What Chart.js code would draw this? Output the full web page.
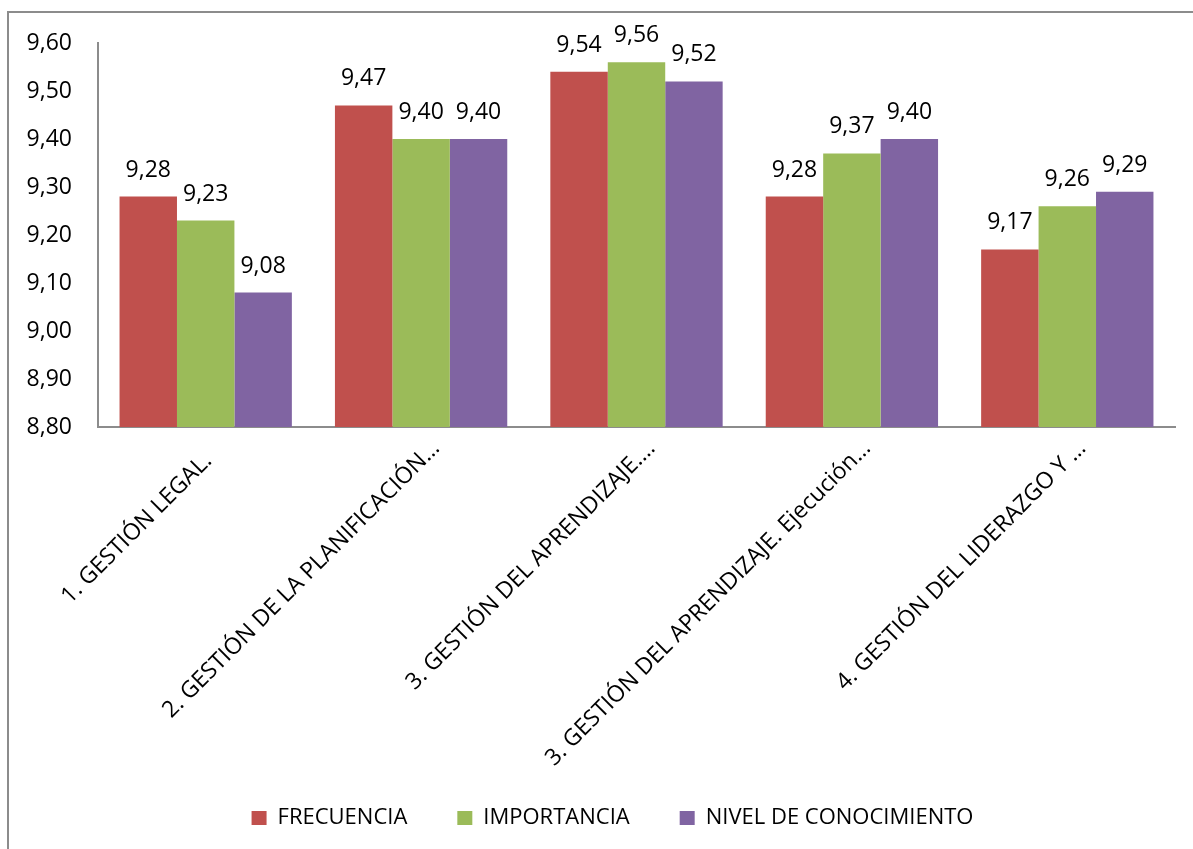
<!DOCTYPE html>
<html>
<head>
<meta charset="utf-8">
<title>Gestión</title>
<script src="https://cdn.jsdelivr.net/npm/chart.js@4.4.1/dist/chart.umd.min.js"></script>
<style>
  html, body { margin: 0; padding: 0; background: #fff; overflow: hidden; }
  #wrap { position: relative; width: 1193px; height: 849px; }
  #frame {
    position: absolute; left: 7px; top: 11px; width: 1200px; height: 860px;
    border: 2px solid #8c8c8c; box-sizing: border-box; pointer-events: none;
  }
  canvas { position: absolute; left: 0; top: 0; }
</style>
</head>
<body>
<div id="wrap">
  <canvas id="chart" width="1193" height="849"></canvas>
  <div id="frame"></div>
</div>
<script>
const categories = [
  '1. GESTIÓN LEGAL.   ',
  '2. GESTIÓN DE LA PLANIFICACIÓN…',
  '3. GESTIÓN DEL APRENDIZAJE.…',
  '3. GESTIÓN DEL APRENDIZAJE. Ejecución…',
  '4. GESTIÓN DEL LIDERAZGO Y …'
];
const frecuencia = [9.28, 9.47, 9.54, 9.28, 9.17];
const importancia = [9.23, 9.40, 9.56, 9.37, 9.26];
const nivelConocimiento = [9.08, 9.40, 9.52, 9.40, 9.29];
const yMin = 8.8;
const yMax = 9.6;
const yStep = 0.1;

const FONT = "'Open Sans', sans-serif";
const fmt = v => Number(v).toFixed(2).replace('.', ',');

// value labels above each bar
const barValues = {
  id: 'barValues',
  afterDatasetsDraw(chart) {
    const ctx = chart.ctx;
    ctx.save();
    ctx.font = '23px ' + FONT;
    ctx.fillStyle = '#000';
    ctx.textAlign = 'center';
    ctx.textBaseline = 'alphabetic';
    chart.data.datasets.forEach((ds, i) => {
      chart.getDatasetMeta(i).data.forEach((bar, j) => {
        ctx.fillText(fmt(ds.data[j]), bar.x, bar.y - 20);
      });
    });
    ctx.restore();
  }
};

// legend sits centred under the plot area, not the whole canvas
const legendShift = {
  id: 'legendShift',
  afterLayout(chart) {
    const lg = chart.legend;
    const dx = (chart.chartArea.left + chart.chartArea.right) / 2 - (lg.left + lg.right) / 2 - 24;
    lg.left += dx;
    lg.right += dx;
  }
};

new Chart(document.getElementById('chart'), {
  type: 'bar',
  data: {
    labels: categories,
    datasets: [
      { label: 'FRECUENCIA', data: frecuencia, backgroundColor: '#C0504D' },
      { label: 'IMPORTANCIA', data: importancia, backgroundColor: '#9BBB59' },
      { label: 'NIVEL DE CONOCIMIENTO', data: nivelConocimiento, backgroundColor: '#8064A2' }
    ]
  },
  options: {
    responsive: false,
    animation: false,
    devicePixelRatio: 1,
    categoryPercentage: 0.8,
    barPercentage: 1.0,
    layout: { padding: { left: 20, top: 43, right: 18, bottom: 10 } },
    plugins: {
      tooltip: { enabled: false },
      legend: {
        position: 'bottom',
        labels: {
          font: { family: FONT, size: 22 },
          color: '#000',
          boxWidth: 15,
          boxHeight: 14,
          padding: 50
        }
      }
    },
    scales: {
      x: {
        grid: { display: false, drawTicks: false },
        border: { display: true, color: '#8c8c8c', width: 2 },
        ticks: {
          font: { family: FONT, size: 23 },
          color: '#000',
          autoSkip: false,
          maxRotation: 45,
          minRotation: 45,
          padding: 8,
          labelOffset: 15
        },
        afterFit(scale) {
          scale.height = 330;
          // long rotated labels run past the axis box into the legend gap
          scale._computeLabelArea = () => undefined;
        }
      },
      y: {
        min: yMin,
        max: yMax,
        grid: { display: false, drawTicks: false },
        border: { display: true, color: '#8c8c8c', width: 2 },
        ticks: {
          stepSize: yStep,
          font: { family: FONT, size: 23 },
          color: '#000',
          padding: 26,
          callback: v => fmt(v)
        },
        afterFit(scale) { scale.width = 78; }
      }
    }
  },
  plugins: [barValues, legendShift]
});
</script>
</body>
</html>
